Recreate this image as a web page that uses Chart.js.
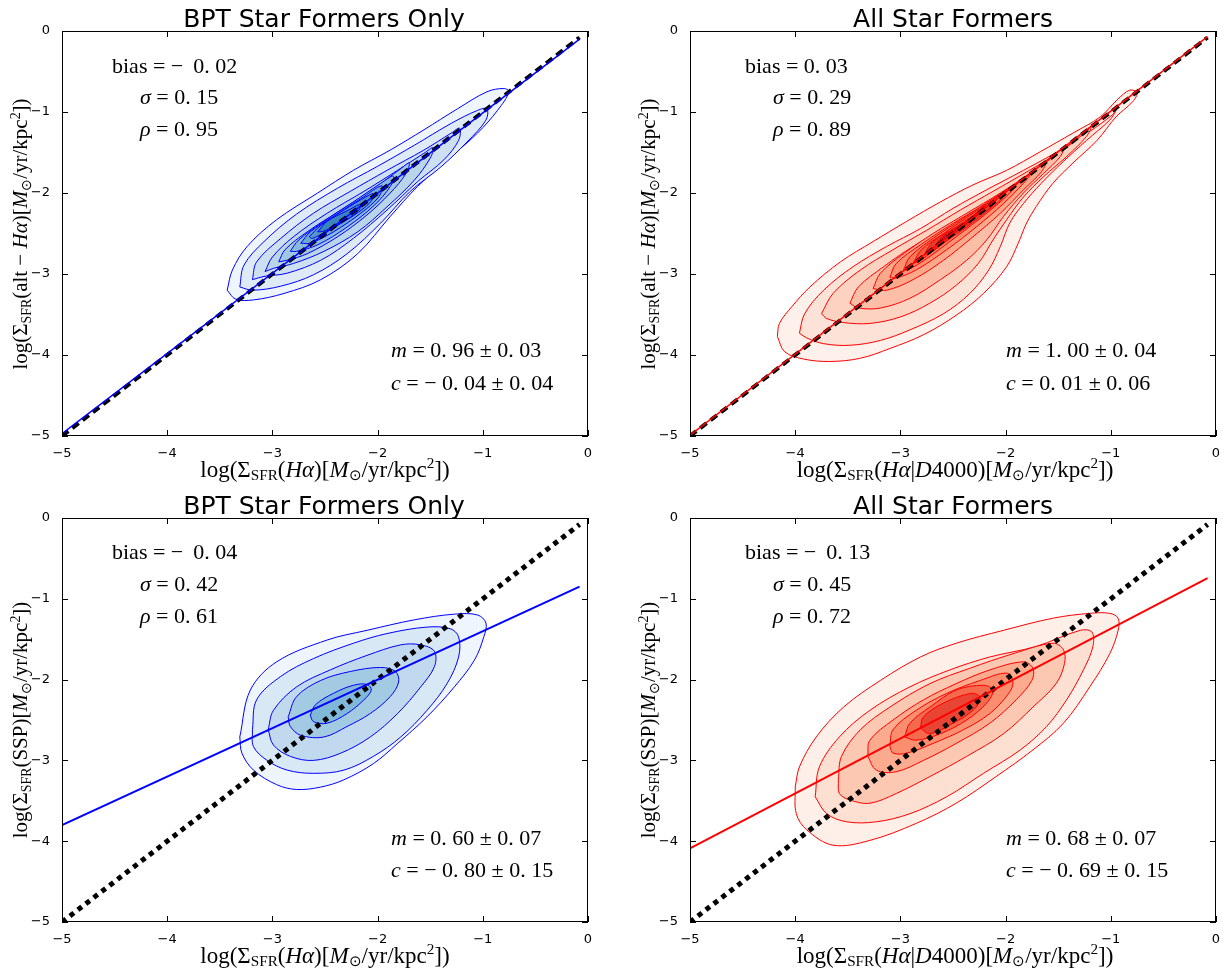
<!DOCTYPE html>
<html>
<head>
<meta charset="utf-8">
<script src="https://cdn.jsdelivr.net/npm/chart.js@4.4.0/dist/chart.umd.min.js"></script>
<style>
  body { margin: 0; background: #fff; width: 1224px; height: 975px; position: relative; overflow: hidden; }
  canvas { position: absolute; }
  .t { position: absolute; white-space: nowrap; color: #000; line-height: 1; }
  .title { font-family: "DejaVu Sans", sans-serif; font-size: 25px; transform: translate(-50%, -50%); }
  .note { font-family: "Liberation Serif", serif; font-size: 22px; transform: translateY(-50%); }
  .lab { font-family: "Liberation Serif", serif; font-size: 23px; transform: translate(-50%, -50%); }
  .ylab { font-size: 21px; transform: translate(-50%, -50%) rotate(-90deg); }
  sub { font-size: 0.66em; vertical-align: -0.25em; }
  sup { font-size: 0.66em; vertical-align: 0.55em; }
</style>
</head>
<body>
<canvas id="tl" width="612" height="487" style="left:0;top:0"></canvas>
<canvas id="tr" width="612" height="487" style="left:612px;top:0"></canvas>
<canvas id="bl" width="612" height="488" style="left:0;top:487px"></canvas>
<canvas id="br" width="612" height="488" style="left:612px;top:487px"></canvas>

<div class="t title" style="left:324px;top:18px">BPT Star Formers Only</div>
<div class="t title" style="left:953px;top:18px">All Star Formers</div>
<div class="t title" style="left:324px;top:505px">BPT Star Formers Only</div>
<div class="t title" style="left:953px;top:505px">All Star Formers</div>

<div class="t lab" style="left:325px;top:469px">log(Σ<sub>SFR</sub>(<i>Hα</i>)[<i>M</i><sub>⊙</sub>/yr/kpc<sup>2</sup>])</div>
<div class="t lab" style="left:955px;top:469px">log(Σ<sub>SFR</sub>(<i>Hα</i>|<i>D</i>4000)[<i>M</i><sub>⊙</sub>/yr/kpc<sup>2</sup>])</div>
<div class="t lab" style="left:325px;top:955px">log(Σ<sub>SFR</sub>(<i>Hα</i>)[<i>M</i><sub>⊙</sub>/yr/kpc<sup>2</sup>])</div>
<div class="t lab" style="left:955px;top:955px">log(Σ<sub>SFR</sub>(<i>Hα</i>|<i>D</i>4000)[<i>M</i><sub>⊙</sub>/yr/kpc<sup>2</sup>])</div>

<div class="t lab ylab" style="left:21px;top:234px">log(Σ<sub>SFR</sub>(alt − <i>Hα</i>)[<i>M</i><sub>⊙</sub>/yr/kpc<sup>2</sup>])</div>
<div class="t lab ylab" style="left:649px;top:234px">log(Σ<sub>SFR</sub>(alt − <i>Hα</i>)[<i>M</i><sub>⊙</sub>/yr/kpc<sup>2</sup>])</div>
<div class="t lab ylab" style="left:21px;top:720px">log(Σ<sub>SFR</sub>(SSP)[<i>M</i><sub>⊙</sub>/yr/kpc<sup>2</sup>])</div>
<div class="t lab ylab" style="left:649px;top:720px">log(Σ<sub>SFR</sub>(SSP)[<i>M</i><sub>⊙</sub>/yr/kpc<sup>2</sup>])</div>

<div class="t note" style="left:112px;top:66px">bias = −&thinsp; 0. 02</div>
<div class="t note" style="left:140px;top:97px"><i>σ</i> = 0. 15</div>
<div class="t note" style="left:140px;top:129px"><i>ρ</i> = 0. 95</div>
<div class="t note" style="left:391px;top:350px"><i>m</i> = 0. 96 ± 0. 03</div>
<div class="t note" style="left:391px;top:383px"><i>c</i> = − 0. 04 ± 0. 04</div>

<div class="t note" style="left:745px;top:66px">bias = 0. 03</div>
<div class="t note" style="left:773px;top:97px"><i>σ</i> = 0. 29</div>
<div class="t note" style="left:773px;top:129px"><i>ρ</i> = 0. 89</div>
<div class="t note" style="left:1006px;top:350px"><i>m</i> = 1. 00 ± 0. 04</div>
<div class="t note" style="left:1006px;top:383px"><i>c</i> = 0. 01 ± 0. 06</div>

<div class="t note" style="left:112px;top:552px">bias = −&thinsp; 0. 04</div>
<div class="t note" style="left:140px;top:584px"><i>σ</i> = 0. 42</div>
<div class="t note" style="left:140px;top:616px"><i>ρ</i> = 0. 61</div>
<div class="t note" style="left:391px;top:838px"><i>m</i> = 0. 60 ± 0. 07</div>
<div class="t note" style="left:391px;top:870px"><i>c</i> = − 0. 80 ± 0. 15</div>

<div class="t note" style="left:745px;top:552px">bias = −&thinsp; 0. 13</div>
<div class="t note" style="left:773px;top:584px"><i>σ</i> = 0. 45</div>
<div class="t note" style="left:773px;top:616px"><i>ρ</i> = 0. 72</div>
<div class="t note" style="left:1006px;top:838px"><i>m</i> = 0. 68 ± 0. 07</div>
<div class="t note" style="left:1006px;top:870px"><i>c</i> = − 0. 69 ± 0. 15</div>

<script>
// axis range and ticks shared by all four panels
const axisMin = -5;
const axisMax = 0;
const tickValues = [-5, -4, -3, -2, -1, 0];

// --- top left: BPT star formers, alt-Halpha vs Halpha (outer -> inner)
const tlContours = [
  [[-3.43,-3.20],[-3.38,-2.95],[-3.24,-2.66],[-2.96,-2.33],[-2.57,-2.00],[-2.23,-1.72],[-1.88,-1.47],[-1.56,-1.22],[-1.24,-0.96],[-0.96,-0.75],[-0.80,-0.71],[-0.75,-0.75],[-0.86,-0.98],[-1.05,-1.26],[-1.30,-1.55],[-1.62,-1.92],[-1.88,-2.29],[-2.19,-2.75],[-2.54,-3.07],[-2.89,-3.24],[-3.18,-3.32],[-3.35,-3.31]],
  [[-3.31,-3.16],[-3.27,-2.89],[-3.08,-2.60],[-2.77,-2.26],[-2.38,-1.94],[-2.00,-1.67],[-1.65,-1.41],[-1.30,-1.14],[-1.05,-0.98],[-0.96,-0.96],[-0.97,-1.10],[-1.15,-1.37],[-1.40,-1.68],[-1.69,-1.98],[-1.97,-2.37],[-2.29,-2.75],[-2.61,-3.01],[-2.92,-3.15],[-3.19,-3.20]],
  [[-3.19,-3.07],[-3.15,-2.85],[-2.92,-2.56],[-2.61,-2.25],[-2.26,-1.98],[-1.91,-1.72],[-1.56,-1.47],[-1.30,-1.26],[-1.22,-1.20],[-1.23,-1.35],[-1.37,-1.59],[-1.62,-1.86],[-1.91,-2.21],[-2.23,-2.56],[-2.54,-2.83],[-2.86,-2.99],[-3.08,-3.03]],
  [[-3.07,-2.97],[-3.00,-2.79],[-2.80,-2.54],[-2.48,-2.25],[-2.13,-1.98],[-1.81,-1.72],[-1.56,-1.51],[-1.47,-1.44],[-1.50,-1.57],[-1.65,-1.84],[-1.91,-2.17],[-2.19,-2.48],[-2.51,-2.72],[-2.80,-2.87],[-2.99,-2.93]],
  [[-2.94,-2.85],[-2.88,-2.70],[-2.67,-2.48],[-2.35,-2.21],[-2.03,-1.94],[-1.78,-1.70],[-1.70,-1.63],[-1.73,-1.76],[-1.88,-2.00],[-2.10,-2.27],[-2.38,-2.54],[-2.67,-2.75],[-2.86,-2.83]],
  [[-2.83,-2.72],[-2.75,-2.58],[-2.51,-2.35],[-2.23,-2.11],[-1.97,-1.88],[-1.85,-1.79],[-1.88,-1.92],[-2.03,-2.15],[-2.29,-2.42],[-2.57,-2.64],[-2.77,-2.72]],
  [[-2.73,-2.62],[-2.64,-2.48],[-2.42,-2.29],[-2.16,-2.07],[-1.96,-1.91],[-1.99,-2.05],[-2.16,-2.25],[-2.42,-2.48],[-2.64,-2.62]],
  [[-2.65,-2.54],[-2.54,-2.40],[-2.32,-2.21],[-2.10,-2.04],[-2.04,-2.01],[-2.08,-2.13],[-2.29,-2.33],[-2.51,-2.49],[-2.62,-2.56]],
  [[-2.57,-2.48],[-2.48,-2.35],[-2.29,-2.22],[-2.16,-2.14],[-2.19,-2.23],[-2.35,-2.37],[-2.51,-2.47]]
];
const tlFills = ['#eef5fc','#deebf7','#cde0f1','#b8d5ea','#a0c8e2','#87badb','#6ca9d2','#5398c9','#3b85bf'];
const tlFit = [[-5, -4.97], [-0.08, -0.10]];

// --- top right: all star formers, alt-Halpha vs Halpha|D4000
const trContours = [
  [[-4.17,-3.77],[-4.15,-3.61],[-4.03,-3.40],[-3.86,-3.16],[-3.57,-2.85],[-3.26,-2.60],[-2.94,-2.35],[-2.62,-2.11],[-2.31,-1.90],[-1.99,-1.72],[-1.67,-1.49],[-1.36,-1.26],[-1.10,-1.06],[-0.94,-0.85],[-0.82,-0.73],[-0.75,-0.76],[-0.79,-0.87],[-0.95,-1.06],[-1.13,-1.35],[-1.36,-1.63],[-1.55,-1.88],[-1.71,-2.17],[-1.80,-2.37],[-1.88,-2.62],[-1.99,-2.91],[-2.21,-3.24],[-2.47,-3.51],[-2.78,-3.75],[-3.10,-3.92],[-3.38,-4.04],[-3.67,-4.08],[-3.92,-4.05],[-4.10,-3.96]],
  [[-3.96,-3.73],[-3.91,-3.49],[-3.73,-3.20],[-3.45,-2.91],[-3.13,-2.66],[-2.81,-2.44],[-2.50,-2.19],[-2.18,-1.96],[-1.83,-1.72],[-1.48,-1.47],[-1.20,-1.24],[-0.99,-1.04],[-0.95,-0.98],[-1.01,-1.10],[-1.23,-1.35],[-1.45,-1.61],[-1.66,-1.88],[-1.83,-2.13],[-1.96,-2.37],[-2.05,-2.66],[-2.16,-2.95],[-2.34,-3.24],[-2.59,-3.49],[-2.91,-3.69],[-3.19,-3.82],[-3.48,-3.88],[-3.73,-3.86],[-3.89,-3.79]],
  [[-3.75,-3.49],[-3.64,-3.24],[-3.38,-2.95],[-3.07,-2.70],[-2.75,-2.46],[-2.43,-2.21],[-2.12,-1.98],[-1.80,-1.74],[-1.48,-1.49],[-1.23,-1.24],[-1.18,-1.17],[-1.23,-1.30],[-1.42,-1.55],[-1.64,-1.80],[-1.83,-2.05],[-1.99,-2.33],[-2.12,-2.58],[-2.26,-2.87],[-2.47,-3.14],[-2.72,-3.36],[-3.00,-3.53],[-3.29,-3.61],[-3.54,-3.60],[-3.70,-3.55]],
  [[-3.48,-3.36],[-3.40,-3.16],[-3.16,-2.91],[-2.88,-2.66],[-2.56,-2.42],[-2.24,-2.17],[-1.93,-1.92],[-1.64,-1.65],[-1.45,-1.44],[-1.48,-1.55],[-1.64,-1.76],[-1.83,-2.00],[-2.02,-2.29],[-2.18,-2.58],[-2.37,-2.83],[-2.62,-3.07],[-2.91,-3.30],[-3.19,-3.42],[-3.40,-3.42]],
  [[-3.26,-3.18],[-3.19,-2.99],[-2.97,-2.75],[-2.69,-2.50],[-2.37,-2.25],[-2.05,-2.00],[-1.77,-1.76],[-1.62,-1.63],[-1.66,-1.74],[-1.83,-1.96],[-2.05,-2.25],[-2.31,-2.54],[-2.59,-2.83],[-2.88,-3.07],[-3.13,-3.20]],
  [[-3.10,-3.04],[-3.04,-2.87],[-2.81,-2.64],[-2.53,-2.40],[-2.21,-2.15],[-1.93,-1.92],[-1.77,-1.78],[-1.83,-1.88],[-2.02,-2.13],[-2.28,-2.42],[-2.56,-2.70],[-2.85,-2.95],[-3.04,-3.05]],
  [[-2.97,-2.95],[-2.91,-2.79],[-2.69,-2.56],[-2.40,-2.31],[-2.12,-2.07],[-1.90,-1.89],[-1.96,-2.00],[-2.18,-2.25],[-2.47,-2.54],[-2.75,-2.81],[-2.93,-2.95]],
  [[-2.88,-2.87],[-2.80,-2.70],[-2.59,-2.50],[-2.31,-2.25],[-2.05,-2.02],[-2.00,-1.97],[-2.05,-2.09],[-2.31,-2.35],[-2.59,-2.62],[-2.81,-2.83]],
  [[-2.77,-2.75],[-2.69,-2.60],[-2.47,-2.42],[-2.21,-2.19],[-2.09,-2.08],[-2.15,-2.19],[-2.37,-2.42],[-2.62,-2.64],[-2.74,-2.75]],
  [[-2.67,-2.64],[-2.58,-2.52],[-2.37,-2.35],[-2.19,-2.14],[-2.26,-2.27],[-2.47,-2.48],[-2.64,-2.63]]
];
const trFills = ['#fef0ea','#fde2d7','#fcd2c0','#fcbea6','#fca88b','#fc9071','#fb7858','#f45f43','#e24030','#c2191f'];
const trFit = [[-5, -4.99], [-0.08, -0.07]];

// --- bottom left: BPT star formers, SSP vs Halpha
const blContours = [
  [[-3.31,-2.71],[-3.21,-2.13],[-2.96,-1.78],[-2.48,-1.51],[-2.10,-1.39],[-1.65,-1.26],[-1.27,-1.19],[-1.05,-1.20],[-0.97,-1.30],[-0.99,-1.47],[-1.08,-1.76],[-1.27,-2.09],[-1.53,-2.46],[-1.81,-2.79],[-2.04,-3.04],[-2.32,-3.24],[-2.54,-3.33],[-2.77,-3.36],[-2.96,-3.30],[-3.18,-3.12],[-3.29,-2.91]],
  [[-3.19,-2.62],[-3.15,-2.25],[-2.92,-1.96],[-2.61,-1.74],[-2.23,-1.55],[-1.91,-1.43],[-1.53,-1.35],[-1.31,-1.37],[-1.23,-1.47],[-1.23,-1.72],[-1.34,-2.05],[-1.53,-2.38],[-1.78,-2.71],[-2.04,-2.95],[-2.32,-3.12],[-2.61,-3.16],[-2.86,-3.12],[-3.05,-3.00],[-3.18,-2.83]],
  [[-3.04,-2.62],[-2.99,-2.38],[-2.77,-2.09],[-2.45,-1.88],[-2.10,-1.70],[-1.78,-1.57],[-1.59,-1.57],[-1.46,-1.65],[-1.46,-1.84],[-1.59,-2.09],[-1.81,-2.42],[-2.07,-2.71],[-2.35,-2.91],[-2.61,-3.00],[-2.83,-2.95],[-2.99,-2.81]],
  [[-2.85,-2.46],[-2.77,-2.21],[-2.54,-2.01],[-2.26,-1.90],[-1.97,-1.85],[-1.83,-1.90],[-1.80,-2.03],[-1.88,-2.21],[-2.07,-2.42],[-2.29,-2.58],[-2.51,-2.71],[-2.73,-2.69],[-2.83,-2.58]],
  [[-2.64,-2.44],[-2.59,-2.31],[-2.42,-2.17],[-2.23,-2.07],[-2.10,-2.06],[-2.06,-2.13],[-2.13,-2.25],[-2.29,-2.42],[-2.48,-2.54],[-2.61,-2.52]]
];
const blFills = ['#eef5fc','#d9e8f5','#c1d9ee','#a3cae3','#80b8da'];
const blFit = [[-5, -3.80], [-0.08, -0.85]];

// --- bottom right: all star formers, SSP vs Halpha|D4000
const brContours = [
  [[-4.00,-3.33],[-3.96,-3.08],[-3.80,-2.71],[-3.54,-2.34],[-3.19,-2.01],[-2.81,-1.72],[-2.47,-1.55],[-2.02,-1.39],[-1.55,-1.24],[-1.20,-1.18],[-1.01,-1.18],[-0.93,-1.24],[-0.93,-1.39],[-1.01,-1.68],[-1.20,-2.09],[-1.45,-2.54],[-1.74,-2.87],[-2.09,-3.20],[-2.47,-3.53],[-2.85,-3.78],[-3.29,-3.99],[-3.64,-4.05],[-3.89,-3.86],[-3.99,-3.66]],
  [[-3.81,-3.45],[-3.77,-3.08],[-3.58,-2.71],[-3.29,-2.38],[-2.91,-2.09],[-2.53,-1.88],[-2.15,-1.72],[-1.71,-1.59],[-1.29,-1.39],[-1.18,-1.41],[-1.17,-1.59],[-1.26,-1.88],[-1.42,-2.25],[-1.61,-2.58],[-1.86,-2.87],[-2.21,-3.16],[-2.56,-3.45],[-2.91,-3.66],[-3.23,-3.76],[-3.51,-3.76],[-3.70,-3.66]],
  [[-3.59,-3.24],[-3.56,-2.95],[-3.38,-2.62],[-3.10,-2.34],[-2.72,-2.05],[-2.34,-1.86],[-1.93,-1.68],[-1.55,-1.55],[-1.45,-1.63],[-1.44,-1.80],[-1.52,-2.05],[-1.74,-2.34],[-2.02,-2.67],[-2.37,-2.95],[-2.72,-3.20],[-3.04,-3.41],[-3.29,-3.53],[-3.48,-3.49],[-3.58,-3.41]],
  [[-3.31,-2.95],[-3.29,-2.75],[-3.07,-2.50],[-2.78,-2.25],[-2.47,-2.05],[-2.15,-1.88],[-1.83,-1.78],[-1.74,-1.86],[-1.75,-2.01],[-1.90,-2.25],[-2.15,-2.54],[-2.47,-2.79],[-2.78,-3.00],[-3.04,-3.14],[-3.23,-3.12]],
  [[-3.10,-2.83],[-3.07,-2.62],[-2.85,-2.38],[-2.56,-2.17],[-2.24,-2.01],[-1.99,-1.92],[-1.93,-2.03],[-1.97,-2.17],[-2.15,-2.42],[-2.40,-2.62],[-2.69,-2.79],[-2.94,-2.91],[-3.07,-2.91]],
  [[-2.96,-2.71],[-2.91,-2.54],[-2.72,-2.34],[-2.47,-2.13],[-2.21,-2.07],[-2.12,-2.13],[-2.18,-2.29],[-2.37,-2.50],[-2.62,-2.67],[-2.85,-2.75]],
  [[-2.81,-2.60],[-2.78,-2.46],[-2.59,-2.29],[-2.32,-2.17],[-2.24,-2.23],[-2.31,-2.38],[-2.50,-2.54],[-2.72,-2.67]]
];
const brFills = ['#fef0e9','#fde0d2','#fcc8b2','#fcab8f','#fb8e6e','#f5694d','#e94534'];
const brFit = [[-5, -4.09], [-0.08, -0.745]];

// one-to-one reference line
const oneToOne = [[-5, -5], [-0.08, -0.08]];

// frame and inward ticks on all four sides, like the matplotlib classic style
const frameTicks = {
  id: 'frameTicks',
  afterDatasetsDraw(chart) {
    const { ctx, chartArea: a, scales: { x, y } } = chart;
    const len = 6;
    ctx.save();
    ctx.strokeStyle = '#000';
    ctx.lineWidth = 1;
    ctx.beginPath();
    tickValues.forEach(v => {
      const px = Math.round(x.getPixelForValue(v)) + 0.5;
      ctx.moveTo(px, a.bottom); ctx.lineTo(px, a.bottom - len);
      ctx.moveTo(px, a.top); ctx.lineTo(px, a.top + len);
      const py = Math.round(y.getPixelForValue(v)) + 0.5;
      ctx.moveTo(a.left, py); ctx.lineTo(a.left + len, py);
      ctx.moveTo(a.right, py); ctx.lineTo(a.right - len, py);
    });
    ctx.stroke();
    ctx.strokeRect(a.left + 0.5, a.top + 0.5, a.right - a.left - 1, a.bottom - a.top - 1);
    ctx.restore();
  }
};

const toPts = arr => arr.map(p => ({ x: p[0], y: p[1] }));
const closed = arr => toPts(arr.concat([arr[0]]));

function makePanel(id, contours, fills, color, fit, dotted, pad) {
  const n = contours.length;
  const datasets = [];
  datasets.push({
    data: toPts(fit), borderColor: color, borderWidth: dotted ? 2 : 1.5,
    pointRadius: 0, showLine: true, order: 0
  });
  datasets.push({
    data: toPts(oneToOne), borderColor: '#000',
    borderWidth: dotted ? 5 : 4, borderDash: dotted ? [5, 5] : [8, 5],
    borderCapStyle: 'butt', pointRadius: 0, showLine: true, order: 1
  });
  contours.forEach((c, i) => {
    datasets.push({
      data: closed(c), borderColor: color, borderWidth: 1,
      backgroundColor: fills[i], fill: 'shape', tension: 0.35,
      pointRadius: 0, showLine: true, order: 2 + (n - 1 - i)
    });
  });

  const tickFont = { family: 'DejaVu Sans', size: 13 };
  const minusSign = v => String(v).replace('-', '\u2212');
  return new Chart(document.getElementById(id), {
    type: 'scatter',
    data: { datasets },
    options: {
      responsive: false,
      animation: false,
      layout: { padding: pad },
      plugins: { legend: { display: false }, tooltip: { enabled: false } },
      scales: {
        x: {
          type: 'linear', min: axisMin, max: axisMax,
          grid: { display: false }, border: { display: false },
          afterFit: s => { s.height = 22; },
          ticks: { stepSize: 1, padding: 2, color: '#000', font: tickFont, callback: minusSign }
        },
        y: {
          type: 'linear', min: axisMin, max: axisMax,
          grid: { display: false }, border: { display: false },
          afterFit: s => { s.width = 40; },
          ticks: { stepSize: 1, padding: 4, color: '#000', font: tickFont, callback: minusSign }
        }
      }
    },
    plugins: [frameTicks]
  });
}

makePanel('tl', tlContours, tlFills, '#0000ff', tlFit, false, { left: 22, right: 24, top: 31, bottom: 29 });
makePanel('tr', trContours, trFills, '#ff0000', trFit, false, { left: 38, right: 8, top: 31, bottom: 29 });
makePanel('bl', blContours, blFills, '#0000ff', blFit, true, { left: 22, right: 24, top: 31, bottom: 31 });
makePanel('br', brContours, brFills, '#ff0000', brFit, true, { left: 38, right: 8, top: 31, bottom: 31 });
</script>
</body>
</html>
